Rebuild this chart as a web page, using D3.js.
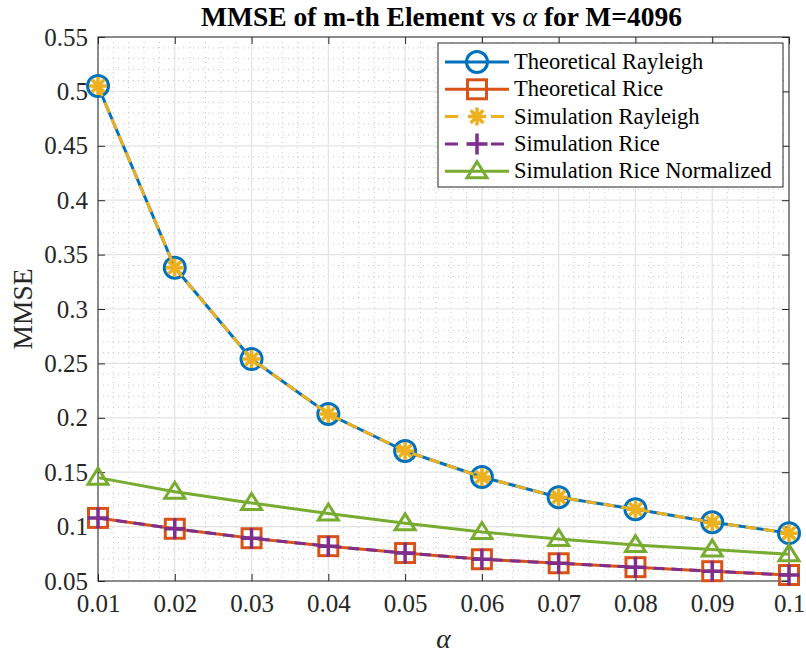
<!DOCTYPE html>
<html lang="en">
<head>
<meta charset="UTF-8" />
<title>MMSE of m-th Element vs alpha</title>
<script src="https://d3js.org/d3.v7.min.js"></script>
<style>
  body { margin: 0; background: #fff; }
  svg { display: block; font-family: "Liberation Serif", "Times New Roman", serif; }
</style>
</head>
<body>
<svg id="chart" width="806" height="657"></svg>
<script>
// Data
const alpha = [0.01, 0.02, 0.03, 0.04, 0.05, 0.06, 0.07, 0.08, 0.09, 0.1];
const theoRayleigh = [0.505, 0.338, 0.254, 0.2035, 0.1695, 0.1456, 0.127, 0.116, 0.104, 0.094];
const theoRice = [0.108, 0.098, 0.0893, 0.082, 0.0757, 0.070, 0.0663, 0.0627, 0.059, 0.0555];
const simRayleigh = theoRayleigh.slice();
const simRice = theoRice.slice();
const simRiceNorm = [0.145, 0.132, 0.1217, 0.112, 0.103, 0.095, 0.0886, 0.083, 0.079, 0.0745];
const xTicks = [0.01, 0.02, 0.03, 0.04, 0.05, 0.06, 0.07, 0.08, 0.09, 0.1];
const yTicks = [0.05, 0.1, 0.15, 0.2, 0.25, 0.3, 0.35, 0.4, 0.45, 0.5, 0.55];

const series = [
  { name: "Theoretical Rayleigh", values: theoRayleigh, color: "#0072BD", dash: null, marker: "circle" },
  { name: "Theoretical Rice", values: theoRice, color: "#D95319", dash: null, marker: "square" },
  { name: "Simulation Rayleigh", values: simRayleigh, color: "#EDB120", dash: "11,7", marker: "asterisk" },
  { name: "Simulation Rice", values: simRice, color: "#7E2F8E", dash: "11,7", marker: "plus" },
  { name: "Simulation Rice Normalized", values: simRiceNorm, color: "#77AC30", dash: null, marker: "triangle" }
];

const svg = d3.select("#chart");
const pL = 98, pR = 789, pT = 37, pB = 581;
const serif = "'Liberation Serif', 'Times New Roman', serif";

const x = d3.scaleLinear().domain([0.01, 0.1]).range([pL, pR]);
const y = d3.scaleLinear().domain([0.05, 0.55]).range([pB, pT]);

// minor grid
const xMinor = d3.range(0.012, 0.1, 0.002).filter(v => Math.abs(v * 100 - Math.round(v * 100)) > 1e-6);
const yMinor = d3.range(0.06, 0.55, 0.01).filter(v => Math.abs(v * 20 - Math.round(v * 20)) > 1e-6);
const grid = svg.append("g");
grid.selectAll(".xm").data(xMinor).enter().append("line")
  .attr("x1", d => x(d)).attr("x2", d => x(d)).attr("y1", pT).attr("y2", pB)
  .attr("stroke", "#c8c8c8").attr("stroke-width", 1).attr("stroke-dasharray", "1,4");
grid.selectAll(".ym").data(yMinor).enter().append("line")
  .attr("y1", d => y(d)).attr("y2", d => y(d)).attr("x1", pL).attr("x2", pR)
  .attr("stroke", "#c8c8c8").attr("stroke-width", 1).attr("stroke-dasharray", "1,4");
// major grid
grid.selectAll(".xg").data(xTicks).enter().append("line")
  .attr("x1", d => x(d)).attr("x2", d => x(d)).attr("y1", pT).attr("y2", pB)
  .attr("stroke", "#e3e3e3").attr("stroke-width", 1.2);
grid.selectAll(".yg").data(yTicks).enter().append("line")
  .attr("y1", d => y(d)).attr("y2", d => y(d)).attr("x1", pL).attr("x2", pR)
  .attr("stroke", "#e3e3e3").attr("stroke-width", 1.2);

// axes
const fmt = d => String(+d.toFixed(3));
const axStyle = g => {
  g.select(".domain").remove();
  g.selectAll(".tick line").attr("stroke", "#262626").attr("stroke-width", 1);
  g.selectAll(".tick text").attr("fill", "#262626").style("font-size", "25px")
    .style("font-family", serif);
};
svg.append("g").attr("transform", `translate(0,${pB})`)
  .call(d3.axisBottom(x).tickValues(xTicks).tickFormat(fmt).tickSizeInner(-7).tickSizeOuter(0).tickPadding(13))
  .call(axStyle);
svg.append("g").attr("transform", `translate(0,${pT})`)
  .call(d3.axisTop(x).tickValues(xTicks).tickFormat("").tickSizeInner(-7).tickSizeOuter(0))
  .call(axStyle);
svg.append("g").attr("transform", `translate(${pL},0)`)
  .call(d3.axisLeft(y).tickValues(yTicks).tickFormat(fmt).tickSizeInner(-7).tickSizeOuter(0).tickPadding(10))
  .call(axStyle);
svg.append("g").attr("transform", `translate(${pR},0)`)
  .call(d3.axisRight(y).tickValues(yTicks).tickFormat("").tickSizeInner(-7).tickSizeOuter(0))
  .call(axStyle);

svg.append("rect").attr("x", pL).attr("y", pT).attr("width", pR - pL).attr("height", pB - pT)
  .attr("fill", "none").attr("stroke", "#262626").attr("stroke-width", 1);

// markers
function drawMarker(g, type, color, cx, cy) {
  if (type === "circle") {
    g.append("circle").attr("cx", cx).attr("cy", cy).attr("r", 10.5)
      .attr("fill", "none").attr("stroke", color).attr("stroke-width", 3);
  } else if (type === "square") {
    const h = 9.5;
    g.append("rect").attr("x", cx - h).attr("y", cy - h).attr("width", 2 * h).attr("height", 2 * h)
      .attr("fill", "none").attr("stroke", color).attr("stroke-width", 3);
  } else if (type === "triangle") {
    g.append("path").attr("d", `M${cx},${cy - 9.5}L${cx + 10},${cy + 6.5}L${cx - 10},${cy + 6.5}Z`)
      .attr("fill", "none").attr("stroke", color).attr("stroke-width", 3);
  } else if (type === "plus") {
    const h = 10.5;
    g.append("path").attr("d", `M${cx - h},${cy}H${cx + h}M${cx},${cy - h}V${cy + h}`)
      .attr("stroke", color).attr("stroke-width", 3.5);
  } else if (type === "asterisk") {
    const h = 9;
    let d = "";
    for (let k = 0; k < 4; k++) {
      const a = k * Math.PI / 4;
      d += `M${cx - h * Math.cos(a)},${cy - h * Math.sin(a)}L${cx + h * Math.cos(a)},${cy + h * Math.sin(a)}`;
    }
    g.append("path").attr("d", d).attr("stroke", color).attr("stroke-width", 3.5);
  }
}

const line = d3.line().x((d, i) => x(alpha[i])).y(d => y(d));
const plot = svg.append("g");
series.forEach(s => {
  const g = plot.append("g");
  g.append("path").datum(s.values).attr("d", line)
    .attr("fill", "none").attr("stroke", s.color).attr("stroke-width", 3)
    .attr("stroke-dasharray", s.dash);
  s.values.forEach((v, i) => drawMarker(g, s.marker, s.color, x(alpha[i]), y(v)));
});

// title & labels
svg.append("text").attr("x", (pL + pR) / 2 - 2).attr("y", 26).attr("text-anchor", "middle")
  .style("font-size", "27.5px").style("font-weight", "bold").style("font-family", serif).attr("fill", "#000")
  .html('MMSE of m-th Element vs <tspan font-style="italic" font-weight="normal">α</tspan> for M=4096');
svg.append("text").attr("x", (pL + pR) / 2).attr("y", 648).attr("text-anchor", "middle")
  .style("font-size", "27.5px").style("font-style", "italic").style("font-family", serif)
  .attr("fill", "#262626").text("α");
svg.append("text").attr("transform", `translate(32,${(pT + pB) / 2}) rotate(-90)`)
  .attr("text-anchor", "middle").style("font-size", "27.5px").style("font-family", serif)
  .attr("fill", "#262626").text("MMSE");

// legend
const lg = svg.append("g");
const lx = 438, ly = 43, lw = 345, lh = 144;
lg.append("rect").attr("x", lx).attr("y", ly).attr("width", lw).attr("height", lh)
  .attr("fill", "#fff").attr("stroke", "#262626").attr("stroke-width", 1);
series.forEach((s, i) => {
  const cy = 62 + i * 27.3;
  lg.append("line").attr("x1", 445).attr("x2", 509).attr("y1", cy).attr("y2", cy)
    .attr("stroke", s.color).attr("stroke-width", 3).attr("stroke-dasharray", s.dash ? "13,10" : null);
  drawMarker(lg, s.marker, s.color, 477, cy);
  lg.append("text").attr("x", 514).attr("y", cy + 7).style("font-size", "22.5px")
    .style("font-family", serif).attr("fill", "#000").text(s.name);
});
</script>
</body>
</html>
